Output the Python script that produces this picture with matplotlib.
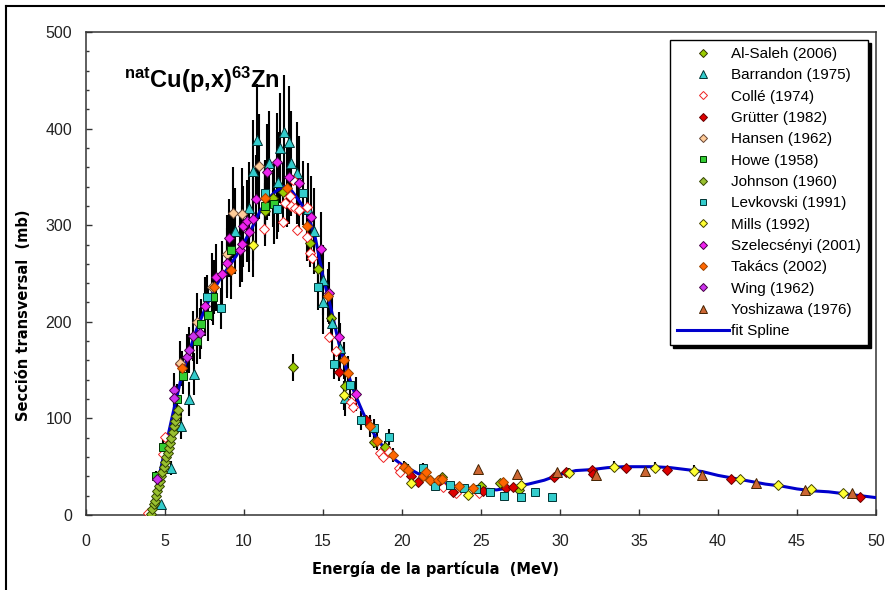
import matplotlib
matplotlib.use("Agg")
import matplotlib.pyplot as plt
from matplotlib.lines import Line2D
import numpy as np

# ---------------- data ----------------
alsaleh_E = [11.3, 11.85, 12.45, 13.1, 14.2, 14.7, 15.5, 16.4, 18.2, 18.9, 20.2, 21.8, 22.5, 25.0, 26.2, 27.4]
alsaleh_s = [315, 328, 334, 153, 282, 255, 204, 134, 76, 70, 50, 36, 39, 30, 33, 26]

barrandon_E = [4.75, 5.38, 6.0, 6.53, 6.85, 9.4, 10.3, 10.6, 10.8, 11.6, 12.15, 12.3, 12.5, 12.85, 13.0, 13.35,
               14.05, 14.4, 15.0, 15.0, 15.6, 16.1, 16.4]
barrandon_s = [11, 49, 92, 120, 146, 294, 318, 356, 388, 364, 345, 380, 396, 386, 364, 354,
               317, 294, 243, 221, 199, 173, 121]

colle_E = [3.9, 4.9, 5.0, 5.95, 11.25, 12.45, 12.6, 12.9, 13.0, 13.1, 13.2, 13.35, 13.5, 14.0, 14.0, 14.2, 14.3,
           15.4, 15.8, 16.8, 16.9, 18.6, 18.8, 19.2, 19.8, 19.9, 22.6, 23.4, 24.9]
colle_s = [2, 63, 81, 156, 296, 303, 323, 330, 320, 347, 318, 295, 316, 319, 288, 271, 266,
           184, 170, 117, 112, 64, 60, 65, 49, 45, 29, 23, 23]

grutter_E = [16.0, 17.7, 20.6, 21.0, 22.4, 23.2, 25.1, 26.6, 27.0, 29.6, 30.4, 32.0, 32.1, 34.2, 36.8, 40.8, 49.0]
grutter_s = [148, 98, 40, 34, 36, 24, 25, 28, 29, 39, 45, 47, 42, 49, 47, 37, 19]

hansen_E = [5.95, 7.0, 8.0, 8.9, 9.3, 9.9, 10.95]
hansen_s = [157, 200, 236, 270, 313, 312, 361]

howe_E = [4.43, 4.87, 5.76, 6.14, 7.0, 7.26, 7.7, 8.04, 9.18, 11.33, 11.9]
howe_s = [40, 70, 120, 144, 180, 198, 207, 226, 274, 320, 322]

johnson_E = [4.12, 4.2, 4.28, 4.36, 4.44, 4.52, 4.6, 4.68, 4.76, 4.84, 4.92, 5.0, 5.08, 5.16, 5.24,
             5.32, 5.4, 5.48, 5.56, 5.64, 5.72, 5.8]
johnson_s = [1, 6, 11, 15, 20, 25, 30, 35, 40, 45, 50, 55, 60, 64, 69, 75, 80, 86, 92, 97, 103, 109]

levkovski_E = [7.66, 8.55, 11.3, 12.1, 13.75, 14.7, 15.7, 16.7, 17.4, 18.2, 19.2, 21.3, 22.1, 23.05, 23.9,
               24.7, 25.6, 26.45, 27.5, 28.4, 29.5]
levkovski_s = [226, 214, 333, 317, 333, 236, 156, 135, 98, 90, 81, 49, 30, 31, 28, 27, 24, 20, 19, 24, 19]

mills_E = [10.6, 16.3, 20.6, 24.2, 27.5, 30.55, 33.4, 36.0, 38.5, 41.4, 43.8, 45.9, 47.9]
mills_s = [280, 124, 33, 21, 31, 43, 50, 49, 46, 37, 31, 27, 23]

szelecsenyi_E = [7.55, 8.2, 8.6, 8.9, 9.05, 9.75, 9.9, 9.95, 10.2, 10.3, 10.6, 10.75, 11.45, 12.1, 12.85,
                 13.5, 14.25, 14.9, 15.4, 16.0, 17.1]
szelecsenyi_s = [216, 246, 249, 261, 287, 274, 281, 299, 304, 293, 306, 327, 355, 365, 350,
                 344, 308, 275, 230, 184, 125]

takacs_E = [6.1, 8.1, 9.2, 11.35, 12.7, 14.0, 15.3, 16.3, 16.6, 18.0, 18.4, 19.4, 20.1, 20.4, 21.3, 21.5,
            21.8, 22.3, 22.5, 23.6, 24.5, 26.4]
takacs_s = [152, 236, 254, 328, 339, 299, 227, 160, 147, 92, 77, 62, 50, 47, 40, 44,
            36, 36, 37, 30, 28, 34]

wing_E = [4.5, 5.57, 5.6, 6.4, 6.5, 6.8, 7.2]
wing_s = [37, 129, 121, 164, 171, 185, 188]

yoshizawa_E = [24.8, 27.3, 29.8, 32.3, 35.4, 39.0, 42.4, 45.5, 48.5]
yoshizawa_s = [48, 42, 44, 41, 46, 41, 33, 26, 23]

spline_E = [4.1, 4.6, 5.0, 5.5, 6.0, 6.5, 7.0, 7.5, 8.0, 8.5, 9.0, 9.5, 10.0, 10.5, 11.0, 11.5, 12.0, 12.5,
            13.0, 13.5, 14.0, 14.5, 15.0, 15.5, 16.0, 16.5, 17.0, 17.5, 18.0, 18.5, 19.0, 19.5, 20.0, 21.0,
            22.0, 23.0, 24.0, 25.0, 26.0, 27.0, 28.0, 29.0, 30.0, 31.0, 32.0, 33.0, 34.0, 35.0, 36.0, 37.0,
            38.0, 39.0, 40.0, 41.0, 42.0, 43.0, 44.0, 45.0, 46.0, 47.0, 48.0, 49.0, 50.0]
spline_s = [0, 38, 68, 105, 140, 168, 192, 212, 230, 245, 256, 268, 282, 297, 314, 327, 335, 340,
            336, 325, 313, 288, 247, 214, 178, 150, 126, 107, 90, 77, 67, 58, 52, 43,
            36, 31, 28, 27, 26, 29, 32, 36, 42, 46, 47, 49, 50, 50, 50, 49,
            47, 45, 41, 38, 35, 32, 30, 27, 25, 24, 22, 20, 18]

# relative uncertainty (fraction) read from the error-bar lengths of each data set
relerr = {
    "Al-Saleh (2006)": 0.09, "Barrandon (1975)": 0.15, "Collé (1974)": 0.0, "Grütter (1982)": 0.06,
    "Hansen (1962)": 0.15, "Howe (1958)": 0.13, "Johnson (1960)": 0.0, "Levkovski (1991)": 0.10,
    "Mills (1992)": 0.12, "Szelecsényi (2001)": 0.14, "Takács (2002)": 0.12, "Wing (1962)": 0.14,
    "Yoshizawa (1976)": 0.0,
}

tick_x = [0, 5, 10, 15, 20, 25, 30, 35, 40, 45, 50]
tick_y = [0, 100, 200, 300, 400, 500]

# -------------- styles --------------
series = [
    ("Al-Saleh (2006)", alsaleh_E, alsaleh_s, dict(marker="D", ms=5.3, mfc="#99cc00", mec="#333300")),
    ("Barrandon (1975)", barrandon_E, barrandon_s, dict(marker="^", ms=7, mfc="#33cccc", mec="#003333")),
    ("Collé (1974)", colle_E, colle_s, dict(marker="D", ms=5.3, mfc="white", mec="#ee2222")),
    ("Grütter (1982)", grutter_E, grutter_s, dict(marker="D", ms=5.3, mfc="#dd0000", mec="#660000")),
    ("Hansen (1962)", hansen_E, hansen_s, dict(marker="D", ms=5.3, mfc="#ffcc99", mec="#664433")),
    ("Howe (1958)", howe_E, howe_s, dict(marker="s", ms=6, mfc="#33cc33", mec="#003300")),
    ("Johnson (1960)", johnson_E, johnson_s, dict(marker="D", ms=5.3, mfc="#99c030", mec="#334400")),
    ("Levkovski (1991)", levkovski_E, levkovski_s, dict(marker="s", ms=6, mfc="#33cccc", mec="#003333")),
    ("Mills (1992)", mills_E, mills_s, dict(marker="D", ms=5.3, mfc="#ffff33", mec="#444400")),
    ("Szelecsényi (2001)", szelecsenyi_E, szelecsenyi_s, dict(marker="D", ms=5.3, mfc="#ee22ee", mec="#440044")),
    ("Takács (2002)", takacs_E, takacs_s, dict(marker="D", ms=5.3, mfc="#ff6600", mec="#994400")),
    ("Wing (1962)", wing_E, wing_s, dict(marker="D", ms=5.3, mfc="#cc33ee", mec="#440044")),
    ("Yoshizawa (1976)", yoshizawa_E, yoshizawa_s, dict(marker="^", ms=7, mfc="#cc6633", mec="#442200")),
]

plt.rcParams["font.family"] = ["Liberation Sans", "DejaVu Sans"]
plt.rcParams["mathtext.default"] = "regular"

W, H = 885, 590
fig = plt.figure(figsize=(W / 100, H / 100), dpi=100)
fig.patch.set_facecolor("white")

ax = fig.add_axes([86 / W, (H - 515) / H, 790 / W, 483 / H])

# error bars (behind markers)
for name, E, s, st in series:
    r = relerr[name]
    if r > 0:
        err = [v * r for v in s]
        ax.errorbar(E, s, yerr=err, fmt="none", ecolor="black", elinewidth=1.5, capsize=0, zorder=2)

# spline fit
spl_line, = ax.plot(spline_E, spline_s, color="#0000cc", lw=2.2, zorder=3, label="fit Spline")

handles = []
for name, E, s, st in series:
    ln, = ax.plot(E, s, ls="none", mew=0.7, zorder=4, label=name, **st)
    handles.append(ln)
handles.append(spl_line)

ax.set_xlim(0, 50)
ax.set_ylim(0, 500)
ax.set_xticks(tick_x)
ax.set_yticks(tick_y)
ax.set_yticks(np.arange(0, 501, 20), minor=True)
ax.tick_params(axis="both", which="both", direction="in", colors="#333333", labelcolor="#222222")
ax.tick_params(axis="x", which="major", length=4, width=1, pad=14, labelsize=11.5)
ax.tick_params(axis="y", which="major", length=4, width=1, pad=10, labelsize=11.5)
ax.tick_params(axis="y", which="minor", length=2.5, width=1)
for sp in ax.spines.values():
    sp.set_color("#333333")
    sp.set_linewidth(1.1)

ax.set_xlabel("Energía de la partícula  (MeV)", family="DejaVu Sans", fontweight="bold", fontsize=10.5,
              x=(435 - 86) / 790, labelpad=8)
ax.set_ylabel("Sección transversal  (mb)", family="DejaVu Sans", fontweight="bold", fontsize=10.5,
              y=(515 - 315) / 483, labelpad=10)

ax.text(2.4, 442, r"$^{nat}$Cu(p,x)$^{63}$Zn", fontsize=17, fontweight="bold",
        family="Liberation Sans", va="baseline", ha="left", zorder=5)

leg = ax.legend(handles=handles, loc="upper right", bbox_to_anchor=((868 - 86) / 790, (515 - 40) / 483),
                borderaxespad=0.0, fontsize=11, numpoints=1, handlelength=3.4, handletextpad=0.15,
                labelspacing=0.48, borderpad=0.45, frameon=True, fancybox=False, edgecolor="black",
                shadow={"color": "black", "alpha": 1.0}, markerscale=0.75)
leg.get_frame().set_linewidth(1.0)
leg.set_zorder(10)

# outer figure border
fig.add_artist(Line2D([6 / W, 6 / W], [0, 1 - 6 / H], transform=fig.transFigure, color="black", lw=1.5))
fig.add_artist(Line2D([6 / W, 1], [1 - 6 / H, 1 - 6 / H], transform=fig.transFigure, color="black", lw=1.5))

fig.savefig("out.png", dpi=100)
